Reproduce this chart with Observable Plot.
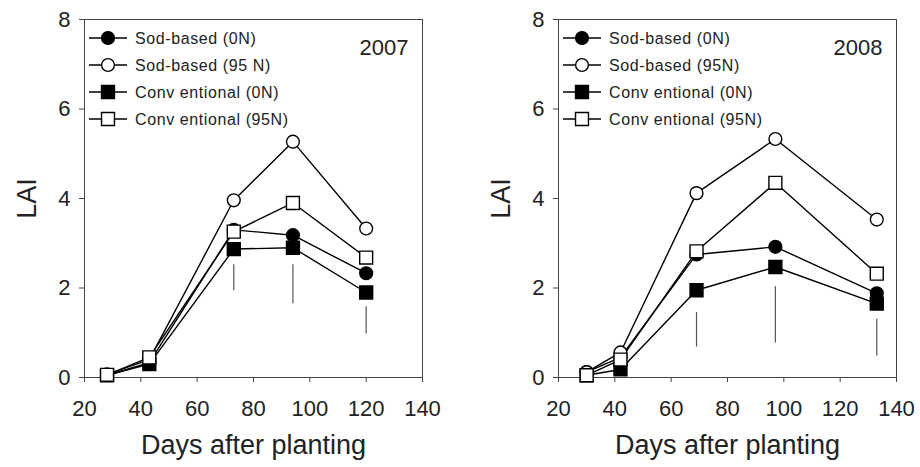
<!DOCTYPE html>
<html>
<head>
<meta charset="utf-8">
<script src="https://cdn.jsdelivr.net/npm/d3@7"></script>
<script src="https://cdn.jsdelivr.net/npm/@observablehq/plot@0.6"></script>
<style>
  html, body { margin: 0; padding: 0; background: #fff; }
  #wrap { position: relative; width: 920px; height: 467px; }
  #wrap > div { position: absolute; top: 0; }
  svg { overflow: visible; }
</style>
</head>
<body>
<div id="wrap"><div id="p2007" style="left:0"></div><div id="p2008" style="left:460px"></div></div>
<script>
// Leaf area index of the four treatments, by sampling date
const legend2007 = ["Sod-based (0N)", "Sod-based (95 N)", "Conv entional (0N)", "Conv entional (95N)"];
const legend2008 = ["Sod-based (0N)", "Sod-based (95N)", "Conv entional (0N)", "Conv entional (95N)"];

const days2007 = [28, 43, 73, 94, 120];
const sod0N_2007 = [0.05, 0.33, 3.3, 3.18, 2.33];
const sod95N_2007 = [0.07, 0.4, 3.96, 5.27, 3.33];
const conv0N_2007 = [0.05, 0.3, 2.87, 2.9, 1.9];
const conv95N_2007 = [0.06, 0.45, 3.26, 3.9, 2.68];
const lsdDays2007 = [73, 94, 120];
const lsdLow2007 = [1.94, 1.65, 0.97];
const lsdHigh2007 = [2.52, 2.52, 1.58];

const days2008 = [30, 42, 69, 97, 133];
const sod0N_2008 = [0.12, 0.45, 2.75, 2.92, 1.88];
const sod95N_2008 = [0.12, 0.56, 4.12, 5.33, 3.53];
const conv0N_2008 = [0.05, 0.18, 1.95, 2.47, 1.65];
const conv95N_2008 = [0.05, 0.4, 2.82, 4.35, 2.32];
const lsdDays2008 = [69, 97, 133];
const lsdLow2008 = [0.68, 0.77, 0.48];
const lsdHigh2008 = [1.45, 2.03, 1.3];

const xTicks = [20, 40, 60, 80, 100, 120, 140];
const yTicks = [0, 2, 4, 6, 8];

// symbol, fill and size of each treatment
const symbols = ["circle", "circle", "square", "square"];
const fills = ["black", "white", "black", "white"];
const radii = [6.4, 6.4, 7.3, 7.3];

function panel(target, year, days, values, lsdDays, lsdLow, lsdHigh, legendNames, ml, mr) {
  const series = values.map(vals => vals.map((v, i) => ({day: days[i], lai: v})));
  const lsd = lsdDays.map((d, i) => ({day: d, lo: lsdLow[i], hi: lsdHigh[i]}));
  const chart = Plot.plot({
    width: 460, height: 467,
    marginLeft: ml, marginRight: mr, marginTop: 19, marginBottom: 90,
    style: {fontFamily: "'Liberation Sans', Arial, sans-serif", fontSize: "22px", color: "#222", background: "transparent"},
    x: {domain: [20, 140]},
    y: {domain: [0, 8]},
    marks: [
      Plot.axisX({ticks: xTicks, tickSize: 5, tickPadding: 18, stroke: "#444",
        label: "Days after planting", labelAnchor: "center", labelArrow: "none", labelOffset: 76}),
      Plot.axisY({ticks: yTicks, tickSize: 5, tickPadding: 9, stroke: "#444",
        label: "LAI", labelAnchor: "center", labelArrow: "none", labelOffset: 68}),
      Plot.frame({stroke: "#444", strokeWidth: 1}),
      Plot.ruleX(lsd, {x: "day", y1: "lo", y2: "hi", stroke: "#555", strokeWidth: 1.2}),
      ...series.map(s => Plot.line(s, {x: "day", y: "lai", stroke: "black", strokeWidth: 1.4})),
      ...series.map((s, k) => Plot.dot(s, {x: "day", y: "lai",
        symbol: symbols[k], fill: fills[k], r: radii[k], stroke: "black", strokeWidth: 1.4})),
      Plot.text([year], {frameAnchor: "top-right", dx: -14, dy: 20, fontSize: 22, fill: "#222"})
    ]
  });
  const svg = d3.select(chart);
  svg.selectAll("[aria-label='x-axis label'] text, [aria-label='y-axis label'] text").attr("font-size", 27);
  // legend drawn in the upper-left corner of the frame
  const g = svg.append("g").attr("font-size", 16).attr("letter-spacing", "0.6px")
    .attr("fill", "#222").attr("text-anchor", "start");
  legendNames.forEach((name, i) => {
    const y = 38 + i * 27;
    g.append("line").attr("x1", ml + 5).attr("x2", ml + 43).attr("y1", y).attr("y2", y)
      .attr("stroke", "black").attr("stroke-width", 1.4);
    const sym = d3.symbol(symbols[i] === "circle" ? d3.symbolCircle : d3.symbolSquare, Math.PI * radii[i] * radii[i]);
    g.append("path").attr("d", sym()).attr("transform", `translate(${ml + 24},${y})`)
      .attr("fill", fills[i]).attr("stroke", "black").attr("stroke-width", 1.4);
    g.append("text").attr("x", ml + 51).attr("y", y).attr("dy", "0.35em").text(name);
  });
  document.getElementById(target).appendChild(chart);
}

panel("p2007", "2007", days2007, [sod0N_2007, sod95N_2007, conv0N_2007, conv95N_2007],
  lsdDays2007, lsdLow2007, lsdHigh2007, legend2007, 84, 38);
panel("p2008", "2008", days2008, [sod0N_2008, sod95N_2008, conv0N_2008, conv95N_2008],
  lsdDays2008, lsdLow2008, lsdHigh2008, legend2008, 98, 24);
</script>
</body>
</html>
